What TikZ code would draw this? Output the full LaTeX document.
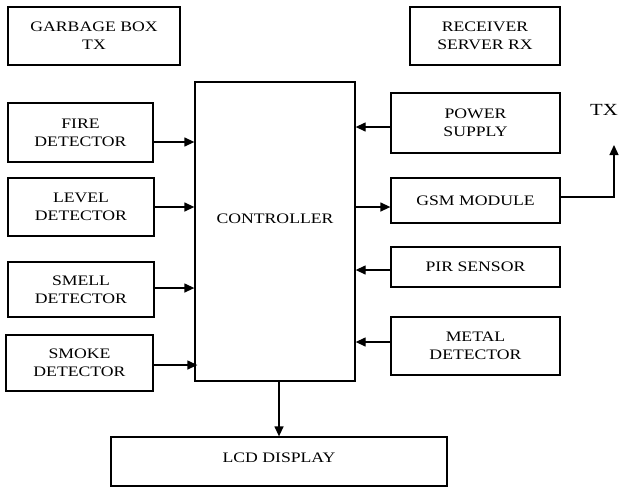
\documentclass[tikz,border=0pt]{standalone}
\usepackage{fontspec}
\setmainfont{Liberation Serif}[FakeStretch=1.22]
\usetikzlibrary{arrows.meta,calc}
\begin{document}
\begin{tikzpicture}[x=1pt,y=-1pt,
  box/.style={draw, line width=1.3pt, align=center, inner sep=0pt,
    font=\fontsize{14.5}{18}\selectfont},
  arr/.style={line width=1.3pt, -{Triangle[length=10pt,width=9pt]}},
  ln/.style={line width=1.3pt}]
\useasboundingbox (0,0) rectangle (620,488);
\node[box, minimum width=172, minimum height=58] (garb) at (94,36) {GARBAGE BOX\\TX};
\node[box, minimum width=150, minimum height=58] (recv) at (485,36) {RECEIVER\\SERVER RX};
\node[box, minimum width=145, minimum height=59] (fire) at (80.5,132.5) {FIRE\\DETECTOR};
\node[box, minimum width=146, minimum height=58] (level) at (81,207) {LEVEL\\DETECTOR};
\node[box, minimum width=146, minimum height=55] (smell) at (81,289.5) {SMELL\\DETECTOR};
\node[box, minimum width=147, minimum height=56] (smoke) at (79.5,363) {SMOKE\\DETECTOR};
\node[box, minimum width=160, minimum height=299,
  label={[font=\fontsize{14.5}{18}\selectfont, yshift=13pt]center:CONTROLLER}] (ctrl) at (275,231.5) {};
\node[box, minimum width=169, minimum height=60] (power) at (475.5,123) {POWER\\SUPPLY};
\node[box, minimum width=169, minimum height=45] (gsm) at (475.5,200.5) {GSM MODULE};
\node[box, minimum width=169, minimum height=40] (pir) at (475.5,267) {PIR SENSOR};
\node[box, minimum width=169, minimum height=58] (metal) at (475.5,346) {METAL\\DETECTOR};
\node[box, minimum width=336, minimum height=49, text depth=8pt] (lcd) at (279,461.5) {LCD DISPLAY};
\node[font=\fontsize{17}{20}\selectfont, inner sep=0pt] (tx) at (604,110) {TX};
\coordinate (txarr) at (614,145);

\draw[arr] (fire.east |- 0,142) -- (ctrl.west |- 0,142);
\draw[arr] (level.east |- 0,207) -- (ctrl.west |- 0,207);
\draw[arr] (smell.east |- 0,288) -- (ctrl.west |- 0,288);
\draw[arr] (smoke.east |- 0,365) -- ($(ctrl.west |- 0,365)+(3,0)$);
\draw[arr] (power.west |- 0,127) -- (ctrl.east |- 0,127);
\draw[arr] (ctrl.east |- 0,207) -- (gsm.west |- 0,207);
\draw[arr] (pir.west |- 0,270) -- (ctrl.east |- 0,270);
\draw[arr] (metal.west |- 0,342) -- (ctrl.east |- 0,342);
\draw[arr] (ctrl.south -| lcd.north) -- (lcd.north);
\draw[arr] (gsm.east |- 0,197) -| (txarr);
\end{tikzpicture}
\end{document}
